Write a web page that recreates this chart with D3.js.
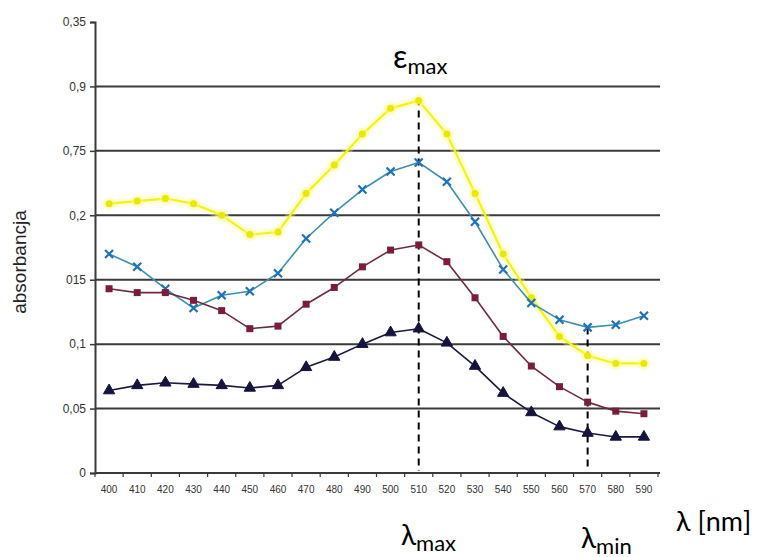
<!DOCTYPE html>
<html>
<head>
<meta charset="utf-8">
<script src="https://cdn.jsdelivr.net/npm/d3@7"></script>
<style>
  html, body { margin: 0; padding: 0; background: #fff; }
  svg { display: block; }
</style>
</head>
<body>
<svg id="chart" width="766" height="557"></svg>
<script>
// ---- data ----
const categories = ["400","410","420","430","440","450","460","470","480","490","500","510","520","530","540","550","560","570","580","590"];
const seriesYellow = [0.209,0.211,0.213,0.209,0.200,0.185,0.187,0.217,0.239,0.263,0.283,0.289,0.263,0.217,0.170,0.136,0.106,0.091,0.085,0.085];
const seriesBlue   = [0.170,0.160,0.143,0.128,0.138,0.141,0.155,0.182,0.202,0.220,0.234,0.241,0.226,0.195,0.158,0.132,0.119,0.113,0.115,0.122];
const seriesMaroon = [0.143,0.140,0.140,0.134,0.126,0.112,0.114,0.131,0.144,0.160,0.173,0.177,0.164,0.136,0.106,0.083,0.067,0.055,0.048,0.046];
const seriesNavy   = [0.064,0.068,0.070,0.069,0.068,0.066,0.068,0.082,0.090,0.100,0.109,0.112,0.101,0.083,0.062,0.047,0.036,0.031,0.028,0.028];
const yTickValues = [0,0.05,0.1,0.15,0.2,0.25,0.3,0.35];
const yTickLabels = ["0","0,05","0,1","015","0,2","0,75","0,9","0,35"];
const lambdaMaxCat = "510";
const lambdaMinCat = "570";

// ---- scales ----
const svg = d3.select("#chart");
const x = d3.scaleBand().domain(categories).range([95, 658]);
const xc = c => x(c) + x.bandwidth() / 2;
const y = d3.scaleLinear().domain([0, 0.35]).range([473, 22]);
const plotRight = 660;

// gridlines
svg.append("g").selectAll("line")
  .data(yTickValues.filter(v => v > 0 && v < 0.35))
  .join("line")
  .attr("x1", 95).attr("x2", plotRight)
  .attr("y1", d => y(d)).attr("y2", d => y(d))
  .attr("stroke", "#3a3a3a").attr("stroke-width", 2);

// y axis
const yAxis = d3.axisLeft(y).tickValues(yTickValues)
  .tickFormat((d, i) => yTickLabels[i]).tickSize(5).tickPadding(4);
const gy = svg.append("g").attr("transform", "translate(95,0)").call(yAxis);
gy.select(".domain").attr("stroke", "#3a3a3a").attr("stroke-width", 2);
gy.selectAll(".tick line").attr("stroke", "#3a3a3a").attr("stroke-width", 1.5);
gy.selectAll("text").attr("font-family", "Arial, 'Liberation Sans', sans-serif")
  .attr("font-size", 12).attr("fill", "#333");

// x axis line
svg.append("line").attr("x1", 95).attr("x2", plotRight)
  .attr("y1", y(0)).attr("y2", y(0))
  .attr("stroke", "#3a3a3a").attr("stroke-width", 2);
// boundary ticks
const boundaries = categories.map(c => x(c)).concat([x(categories[categories.length-1]) + x.bandwidth()]);
svg.append("g").selectAll("line").data(boundaries).join("line")
  .attr("x1", d => d).attr("x2", d => d)
  .attr("y1", y(0)).attr("y2", y(0) + 4)
  .attr("stroke", "#3a3a3a").attr("stroke-width", 1.2);
// x labels
svg.append("g").selectAll("text").data(categories).join("text")
  .attr("x", d => xc(d)).attr("y", y(0) + 20)
  .attr("text-anchor", "middle")
  .attr("font-family", "'Liberation Sans Narrow', Arial, sans-serif")
  .attr("font-size", 10).attr("fill", "#333")
  .text(d => d);

// y axis title
svg.append("text")
  .attr("transform", "translate(26,262) rotate(-90)")
  .attr("text-anchor", "middle")
  .attr("font-family", "Arial, 'Liberation Sans', sans-serif")
  .attr("font-size", 19).attr("fill", "#222")
  .text("absorbancja");

// dashed lines
const dashed = svg.append("g");
dashed.append("line")
  .attr("x1", xc(lambdaMaxCat)).attr("x2", xc(lambdaMaxCat))
  .attr("y1", y(d3.max(seriesYellow)) - 2).attr("y2", y(0) - 2)
  .attr("stroke", "#000").attr("stroke-width", 2).attr("stroke-dasharray", "7,5");
dashed.append("line")
  .attr("x1", xc(lambdaMinCat)).attr("x2", xc(lambdaMinCat))
  .attr("y1", y(seriesBlue[categories.indexOf(lambdaMinCat)])).attr("y2", y(0) - 2)
  .attr("stroke", "#000").attr("stroke-width", 2).attr("stroke-dasharray", "7,5");

// series
const line = d3.line().x((d, i) => xc(categories[i])).y(d => y(d));

function drawSeries(vals, color, width, marker, mcolor, halo) {
  const g = svg.append("g");
  if (halo) {
    g.append("path").attr("d", line(vals)).attr("fill", "none")
      .attr("stroke", halo).attr("stroke-width", 8).attr("stroke-opacity", 0.35)
      .attr("stroke-linejoin", "round");
  }
  g.append("path").attr("d", line(vals)).attr("fill", "none")
    .attr("stroke", color).attr("stroke-width", width).attr("stroke-linejoin", "round");
  const pts = g.selectAll("g.pt").data(vals).join("g")
    .attr("transform", (d, i) => `translate(${xc(categories[i])},${y(d)})`);
  if (marker === "x") {
    pts.append("path").attr("d", "M-4,-4L4,4M-4,4L4,-4")
      .attr("stroke", mcolor).attr("stroke-width", 2.2);
  } else if (marker === "square") {
    pts.append("rect").attr("x", -3.5).attr("y", -3.5).attr("width", 7).attr("height", 7)
      .attr("fill", mcolor);
  } else if (marker === "triangle") {
    pts.append("path").attr("d", d3.symbol(d3.symbolTriangle, 55)).attr("fill", mcolor)
      .attr("stroke", mcolor).attr("stroke-width", 1).attr("stroke-linejoin", "round");
  } else if (marker === "circle") {
    if (halo) pts.append("circle").attr("r", 6.5).attr("fill", halo).attr("fill-opacity", 0.45);
    pts.append("circle").attr("r", 3.5).attr("fill", mcolor);
  }
}
drawSeries(seriesYellow, "#f4f410", 2.2, "circle", "#e8e800", "#fbfb90");
drawSeries(seriesBlue, "#3b8fb5", 1.6, "x", "#1d72b8", null);
drawSeries(seriesMaroon, "#6e2a3e", 1.6, "square", "#7a1d3c", null);
drawSeries(seriesNavy, "#1a1a40", 1.6, "triangle", "#14143c", null);

// annotations
const annFont = "Lato, 'Open Sans', 'DejaVu Sans', sans-serif";
function annot(xpos, ypos, main, sub, size, subSize) {
  const t = svg.append("text").attr("x", xpos).attr("y", ypos)
    .attr("font-family", annFont).attr("font-size", size).attr("fill", "#000");
  t.append("tspan").text(main);
  if (sub) t.append("tspan").attr("font-size", subSize).attr("dy", subSize * 0.25).text(sub);
  return t;
}
annot(393, 68, "ε", "max", 32, 22);
annot(401, 545, "λ", "max", 28, 22);
annot(581, 548, "λ", "min", 28, 22);
annot(676, 531, "λ [nm]", null, 27, 0);
</script>
</body>
</html>
